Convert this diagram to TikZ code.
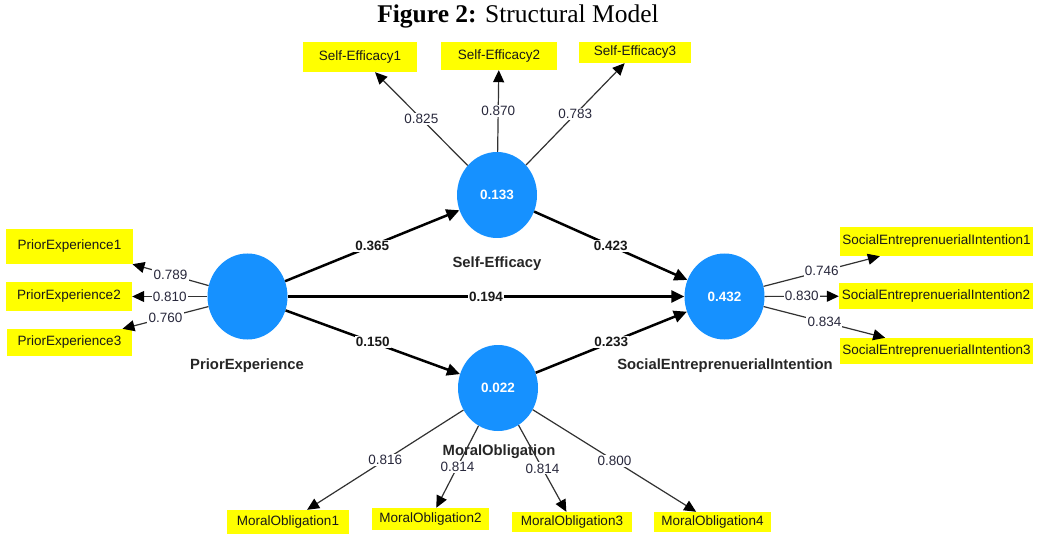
\documentclass[tikz,border=0pt]{standalone}
\usepackage{fontspec}
\setmainfont{Liberation Sans}
\newfontfamily\titlefont{Liberation Serif}
\usetikzlibrary{shapes.geometric,arrows.meta}
\definecolor{lvblue}{RGB}{22,145,255}
\definecolor{indyellow}{RGB}{255,255,0}
\definecolor{loadtxt}{RGB}{40,40,60}
\definecolor{loadline}{RGB}{50,50,50}
\tikzset{
  lv/.style={ellipse, fill=lvblue, draw=none, minimum width=80pt, minimum height=86pt, inner sep=0pt,
    text=white, font=\fontsize{13.5}{15}\selectfont\bfseries},
  ind/.style={rectangle, fill=indyellow, draw=none, inner sep=0pt, text=black!90,
    font=\fontsize{13.5}{15}\selectfont},
  lvname/.style={font=\fontsize{14.8}{16}\selectfont\bfseries, text=black!85, inner sep=0pt},
  load/.style={draw=loadline, line width=1.2pt, -{Triangle[length=12pt,width=11pt,fill=black,color=black]}},
  struct/.style={draw=black, line width=2.5pt, -{Triangle[length=13pt,width=12pt]}},
  lbl/.style={fill=white, inner sep=1.2pt, text=loadtxt, font=\fontsize{13.5}{15}\selectfont},
  slbl/.style={fill=white, inner sep=1.2pt, text=black!90, font=\fontsize{13.5}{15}\selectfont\bfseries},
}
\begin{document}
\begin{tikzpicture}[x=1pt,y=-1pt]
\useasboundingbox (0,0) rectangle (1040,534);
\fill[white] (0,0) rectangle (1040,534);

% title
\node[font=\titlefont\fontsize{25.5}{27}\selectfont, inner sep=0pt] (title) at (518,16) {\textbf{Figure 2:} Structural Model};

% latent variables
\node[lv] (pe) at (247.5,296.5) {};
\node[lv] (se) at (497,195) {0.133};
\node[lv] (mo) at (498,388) {0.022};
\node[lv] (sei) at (724.5,296.5) {0.432};

% latent names
\node[lvname] (pename) at (247,366) {PriorExperience};
\node[lvname] (sename) at (497,264) {Self-Efficacy};
\node[lvname] (seiname) at (725,366) {SocialEntreprenuerialIntention};
\node[lvname] (moname) at (499,452) {MoralObligation};

% indicators
\node[ind, minimum width=114pt, minimum height=30pt] (se1) at (360,57) {Self-Efficacy1};
\node[ind, minimum width=116pt, minimum height=28pt] (se2) at (499,56) {Self-Efficacy2};
\node[ind, minimum width=112pt, minimum height=21pt] (se3) at (635,52.5) {Self-Efficacy3};

\node[ind, minimum width=127pt, minimum height=35pt] (pe1) at (69.5,246.5) {PriorExperience1};
\node[ind, minimum width=126pt, minimum height=29pt] (pe2) at (69,296.5) {PriorExperience2};
\node[ind, minimum width=125pt, minimum height=27pt] (pe3) at (69.5,342.5) {PriorExperience3};

\node[ind, minimum width=193pt, minimum height=29pt] (sei1) at (936.5,241.5) {SocialEntreprenuerialIntention1};
\node[ind, minimum width=194pt, minimum height=26pt] (sei2) at (936,296) {SocialEntreprenuerialIntention2};
\node[ind, minimum width=193pt, minimum height=26pt] (sei3) at (936.5,351) {SocialEntreprenuerialIntention3};

\node[ind, minimum width=122pt, minimum height=24pt] (mo1) at (288,522) {MoralObligation1};
\node[ind, minimum width=117pt, minimum height=22pt] (mo2) at (430.5,519) {MoralObligation2};
\node[ind, minimum width=120pt, minimum height=20pt] (mo3) at (572,522) {MoralObligation3};
\node[ind, minimum width=117pt, minimum height=20pt] (mo4) at (712.5,522) {MoralObligation4};

% outer loadings
\draw[load] (se) -- node[lbl] {0.825} (se1);
\draw[load] (se) -- node[lbl] {0.870} (se2);
\draw[load] (se) -- node[lbl] {0.783} (se3);

\draw[load] (pe) -- node[lbl] {0.789} (pe1);
\draw[load] (pe) -- node[lbl] {0.810} (pe2);
\draw[load] (pe) -- node[lbl] {0.760} (pe3);

\draw[load] (sei) -- node[lbl] {0.746} (sei1);
\draw[load] (sei) -- node[lbl] {0.830} (sei2);
\draw[load] (sei) -- node[lbl] {0.834} (sei3);

\draw[load] (mo) -- node[lbl] {0.816} (mo1);
\draw[load] (mo) -- node[lbl] {0.814} (mo2);
\draw[load] (mo) -- node[lbl] {0.814} (mo3);
\draw[load] (mo) -- node[lbl] {0.800} (mo4);

% structural paths
\draw[struct] (pe) -- node[slbl] {0.365} (se);
\draw[struct] (se) -- node[slbl] {0.423} (sei);
\draw[struct] (pe) -- node[slbl] {0.194} (sei);
\draw[struct] (pe) -- node[slbl] {0.150} (mo);
\draw[struct] (mo) -- node[slbl] {0.233} (sei);
\end{tikzpicture}
\end{document}
